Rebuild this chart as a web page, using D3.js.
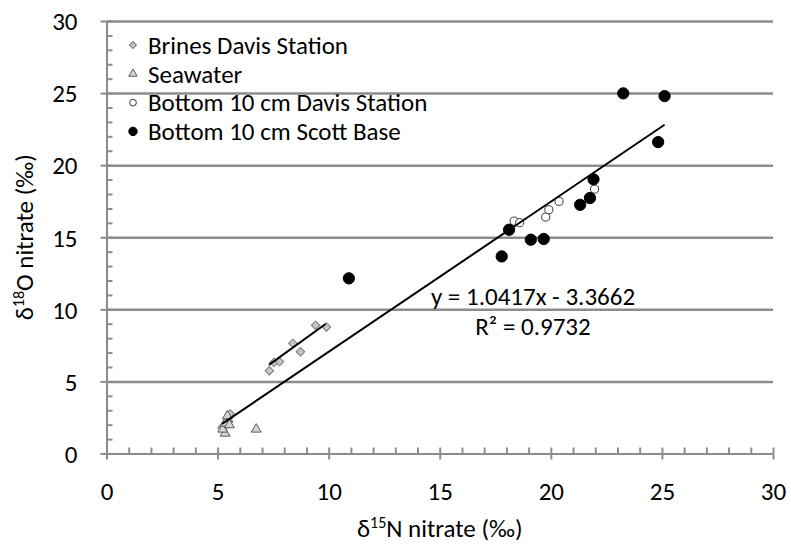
<!DOCTYPE html>
<html>
<head>
<meta charset="utf-8">
<script src="https://cdn.jsdelivr.net/npm/d3@7"></script>
<style>
  body { margin: 0; background: #fff; }
  text { font-family: Carlito, Calibri, Lato, sans-serif; fill: #000; }
</style>
</head>
<body>
<script>
const w = 791;
const h = 548;

// data: [d15N, d18O]
const brines = [[5.2, 1.8], [5.3, 1.9], [5.5, 2.2], [5.45, 2.3], [5.57, 2.74],
  [7.33, 5.74], [7.54, 6.32], [7.79, 6.37], [8.39, 7.64], [8.73, 7.06], [9.41, 8.89], [9.90, 8.77]];
const seawater = [[5.34, 1.40], [5.23, 1.68], [5.34, 2.09], [5.44, 2.6], [5.53, 1.98], [6.74, 1.68]];
const davis = [[18.35, 16.12], [18.60, 16.01], [19.77, 16.40], [19.91, 16.91], [20.37, 17.49], [21.97, 18.34]];
const scott = [[23.26, 24.98], [25.12, 24.79], [24.83, 21.60], [21.92, 19.02], [21.76, 17.72], [21.32, 17.25],
  [18.12, 15.52], [19.10, 14.83], [19.68, 14.88], [17.79, 13.67], [10.91, 12.15]];

const majorTicks = [0, 5, 10, 15, 20, 25, 30];
const legendNames = ["Brines Davis Station", "Seawater", "Bottom 10 cm Davis Station", "Bottom 10 cm Scott Base"];

// trendlines
const fitAll = { slope: 1.0417, intercept: -3.3662, r2: 0.9732 };
const fitBrine = { slope: 1.114, intercept: -2.0, x0: 7.31, x1: 9.86 };

const gray = "#8c8c8c";

const svg = d3.select("body").append("svg")
  .attr("width", w)
  .attr("height", h);

const x = d3.scaleLinear().domain([0, 30]).range([106.5, 773]);
const y = d3.scaleLinear().domain([0, 30]).range([453.5, 21]);

// horizontal gridlines
svg.append("g")
  .attr("transform", `translate(${x(0)},0)`)
  .call(d3.axisLeft(y).tickValues(majorTicks.slice(1)).tickSize(-(x(30) - x(0))).tickFormat(""))
  .call(g => g.select(".domain").remove())
  .call(g => g.selectAll("line").attr("stroke", gray).attr("stroke-width", 2.5));

const minor = d3.range(0, 31);

// y axis
const yAxisGroup = svg.append("g").attr("transform", `translate(${x(0)},0)`);
yAxisGroup.call(d3.axisLeft(y).tickValues(minor).tickSize(-6).tickFormat(""))
  .call(g => g.select(".domain").remove());
yAxisGroup.append("g")
  .call(d3.axisLeft(y).tickValues(majorTicks).tickSize(6).tickPadding(23).tickSizeOuter(0))
  .call(g => g.selectAll("text").attr("font-size", 25).attr("dy", "0.35em"));
yAxisGroup.selectAll("line, path").attr("stroke", gray).attr("stroke-width", 2);

// x axis
const xAxisGroup = svg.append("g").attr("transform", `translate(0,${y(0)})`);
xAxisGroup.call(d3.axisBottom(x).tickValues(minor).tickSize(-6).tickFormat(""))
  .call(g => g.select(".domain").remove());
xAxisGroup.append("g")
  .call(d3.axisBottom(x).tickValues(majorTicks).tickSize(6).tickPadding(24).tickSizeOuter(0))
  .call(g => g.selectAll("text").attr("font-size", 25).attr("dy", "0.35em").attr("y", 38));
xAxisGroup.selectAll("line, path").attr("stroke", gray).attr("stroke-width", 2);

// axis titles
const yTitle = svg.append("text")
  .attr("transform", `translate(33,${(y(0) + y(30)) / 2}) rotate(-90)`)
  .attr("text-anchor", "middle")
  .attr("font-size", 25);
yTitle.append("tspan").text("δ");
yTitle.append("tspan").text("18").attr("font-size", 16).attr("dy", -9);
yTitle.append("tspan").text("O nitrate (‰)").attr("dy", 9);

const xTitle = svg.append("text")
  .attr("x", (x(0) + x(30)) / 2)
  .attr("y", 537)
  .attr("text-anchor", "middle")
  .attr("font-size", 25);
xTitle.append("tspan").text("δ");
xTitle.append("tspan").text("15").attr("font-size", 16).attr("dy", -9);
xTitle.append("tspan").text("N nitrate (‰)").attr("dy", 9);

// series styles
const series = [
  { data: brines, type: d3.symbolSquare, size: 36, rot: 45, fill: "#c6c6c6", stroke: "#7a7a7a", lsize: 24 },
  { data: seawater, type: d3.symbolTriangle, size: 42, rot: 0, fill: "#d4d4d4", stroke: "#5a5a5a", lsize: 30 },
  { data: davis, type: d3.symbolCircle, size: 52, rot: 0, fill: "#fff", stroke: "#3a3a3a", lsize: 36 },
  { data: scott, type: d3.symbolCircle, size: 100, rot: 0, fill: "#000", stroke: "#000", lsize: 56 }
];

series.forEach(s => {
  svg.append("g").selectAll("path")
    .data(s.data)
    .enter()
    .append("path")
    .attr("d", d3.symbol().type(s.type).size(s.size))
    .attr("transform", d => `translate(${x(d[0])},${y(d[1])}) rotate(${s.rot})`)
    .attr("fill", s.fill)
    .attr("stroke", s.stroke)
    .attr("stroke-width", 1);
});

// trendlines
const allPts = brines.concat(seawater, davis, scott);
const xMin = d3.min(allPts, d => d[0]);
const xMax = d3.max(allPts, d => d[0]);
svg.append("line")
  .attr("x1", x(xMin)).attr("y1", y(fitAll.slope * xMin + fitAll.intercept))
  .attr("x2", x(xMax)).attr("y2", y(fitAll.slope * xMax + fitAll.intercept))
  .attr("stroke", "#000").attr("stroke-width", 2);
svg.append("line")
  .attr("x1", x(fitBrine.x0)).attr("y1", y(fitBrine.slope * fitBrine.x0 + fitBrine.intercept))
  .attr("x2", x(fitBrine.x1)).attr("y2", y(fitBrine.slope * fitBrine.x1 + fitBrine.intercept))
  .attr("stroke", "#000").attr("stroke-width", 2);

// equation label
const eq = svg.append("text").attr("text-anchor", "middle").attr("font-size", 25);
eq.append("tspan").attr("x", 533).attr("y", 305)
  .text(`y = ${fitAll.slope}x - ${Math.abs(fitAll.intercept)}`);
eq.append("tspan").attr("x", 533).attr("y", 335)
  .text(`R² = ${fitAll.r2}`);

// legend
const legend = svg.append("g");
legendNames.forEach((name, i) => {
  const s = series[i];
  const ly = 45 + i * 28.8;
  legend.append("path")
    .attr("d", d3.symbol().type(s.type).size(s.lsize))
    .attr("transform", `translate(133,${ly}) rotate(${s.rot})`)
    .attr("fill", s.fill)
    .attr("stroke", s.stroke)
    .attr("stroke-width", 1);
  legend.append("text")
    .attr("x", 148)
    .attr("y", ly)
    .attr("dy", "0.35em")
    .attr("font-size", 25)
    .text(name);
});
</script>
</body>
</html>
